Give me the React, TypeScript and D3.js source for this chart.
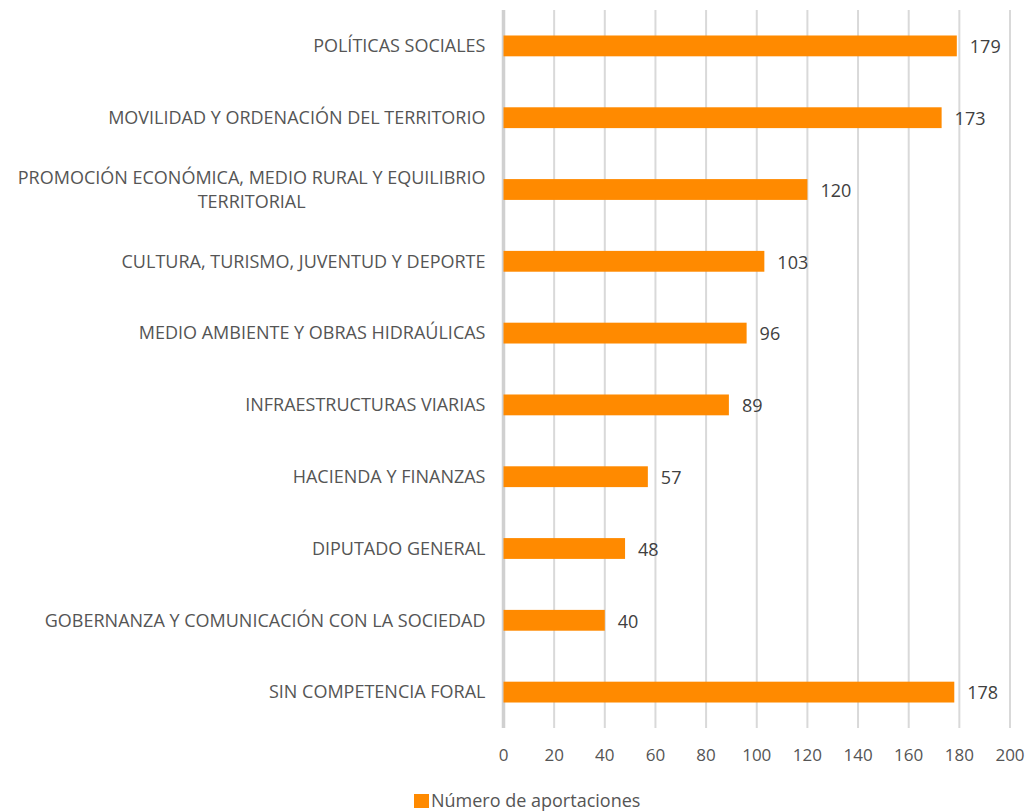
import * as React from 'react';
import { useRef, useEffect } from 'react';
import * as d3 from 'd3';

const categories = [
  ['POLÍTICAS SOCIALES'],
  ['MOVILIDAD Y ORDENACIÓN DEL TERRITORIO'],
  ['PROMOCIÓN ECONÓMICA, MEDIO RURAL Y EQUILIBRIO', 'TERRITORIAL'],
  ['CULTURA, TURISMO, JUVENTUD Y DEPORTE'],
  ['MEDIO AMBIENTE Y OBRAS HIDRAÚLICAS'],
  ['INFRAESTRUCTURAS VIARIAS'],
  ['HACIENDA Y FINANZAS'],
  ['DIPUTADO GENERAL'],
  ['GOBERNANZA Y COMUNICACIÓN CON LA SOCIEDAD'],
  ['SIN COMPETENCIA FORAL'],
];
const values = [179, 173, 120, 103, 96, 89, 57, 48, 40, 178];
const xTicks = [0, 20, 40, 60, 80, 100, 120, 140, 160, 180, 200];
const seriesName = 'Número de aportaciones';

const W = 1027;
const H = 811;
const FONT = '"Open Sans", "DejaVu Sans", sans-serif';

const App: React.FC = () => {
  const svgRef = useRef<SVGSVGElement>(null);

  useEffect(() => {
    if (!svgRef.current) return;
    const svg = d3.select(svgRef.current);
    svg.selectAll('*').remove();

    const margin = { top: 10, right: 17, bottom: 83, left: 503.5 };
    const innerWidth = W - margin.left - margin.right;
    const innerHeight = H - margin.top - margin.bottom;

    const g = svg.append('g').attr('transform', `translate(${margin.left},${margin.top})`);

    const x = d3.scaleLinear().domain([0, 200]).range([0, innerWidth]);
    const y = d3.scaleBand<number>()
      .domain(values.map((_, i) => i))
      .range([0, innerHeight])
      .paddingInner(0.71)
      .paddingOuter(0.355);

    // gridlines
    g.selectAll('.grid')
      .data(xTicks)
      .enter()
      .append('line')
      .attr('x1', d => x(d))
      .attr('x2', d => x(d))
      .attr('y1', 0)
      .attr('y2', innerHeight)
      .attr('stroke', d => (d === 0 ? '#d0d0d0' : '#d9d9d9'))
      .attr('stroke-width', d => (d === 0 ? 3.5 : 2));

    // tick labels
    g.selectAll('.tick-label')
      .data(xTicks)
      .enter()
      .append('text')
      .attr('x', d => x(d))
      .attr('y', innerHeight + 27)
      .attr('dy', '0.35em')
      .attr('text-anchor', 'middle')
      .attr('font-family', FONT)
      .attr('font-size', '17px')
      .attr('fill', '#555555')
      .text(d => d);

    // bars
    g.selectAll('.bar')
      .data(values)
      .enter()
      .append('rect')
      .attr('x', 0)
      .attr('y', (_, i) => y(i)!)
      .attr('width', d => x(d))
      .attr('height', y.bandwidth())
      .attr('fill', '#ff8a00');

    // value labels
    g.selectAll('.value-label')
      .data(values)
      .enter()
      .append('text')
      .attr('x', d => x(d) + 13)
      .attr('y', (_, i) => y(i)! + y.bandwidth() / 2 + 1)
      .attr('dy', '0.35em')
      .attr('font-family', FONT)
      .attr('font-size', '18px')
      .attr('fill', '#404040')
      .text(d => d);

    // category labels
    const labelRight = -18;
    const lineH = 24;
    categories.forEach((lines, i) => {
      const cy = y(i)! + y.bandwidth() / 2;
      const t = g.append('text')
        .attr('font-family', FONT)
        .attr('font-size', '18px')
        .attr('fill', '#555555');
      if (lines.length === 1) {
        t.attr('x', labelRight).attr('y', cy).attr('dy', '0.35em')
          .attr('text-anchor', 'end').text(lines[0]);
      } else {
        t.attr('text-anchor', 'middle');
        const spans = lines.map((l, j) =>
          t.append('tspan')
            .attr('y', cy + (j - (lines.length - 1) / 2) * lineH)
            .attr('dy', '0.35em')
            .text(l)
        );
        const wMax = d3.max(spans, s => (s.node() as SVGTSpanElement).getComputedTextLength()) || 0;
        spans.forEach(s => s.attr('x', labelRight - wMax / 2));
      }
    });

    // legend
    const legend = svg.append('g').attr('transform', `translate(414, 801)`);
    legend.append('rect').attr('x', 0).attr('y', -7).attr('width', 15).attr('height', 14).attr('fill', '#ff8a00');
    legend.append('text')
      .attr('x', 17)
      .attr('y', 0)
      .attr('dy', '0.35em')
      .attr('font-family', FONT)
      .attr('font-size', '18px')
      .attr('fill', '#555555')
      .text(seriesName);
  }, []);

  return (
    <svg ref={svgRef} width={W} height={H} style={{ display: 'block', position: 'absolute', left: 0, top: 0, background: 'white' }} />
  );
};

export default App;
